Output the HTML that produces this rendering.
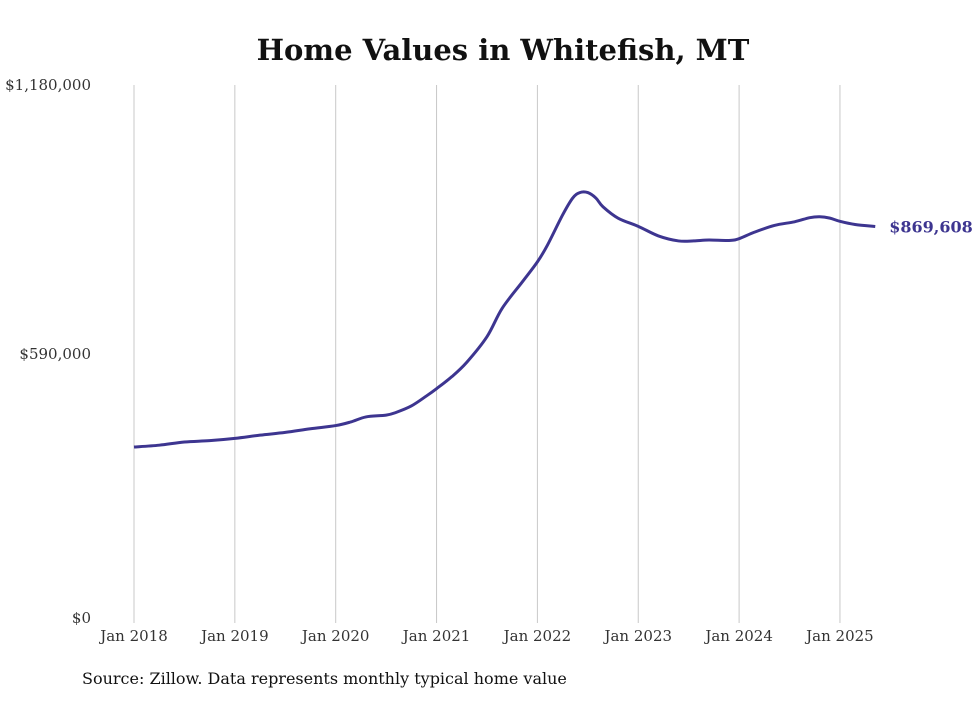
<!DOCTYPE html>
<html><head><meta charset="utf-8"><style>
body{margin:0;background:#fff;width:980px;height:699px;overflow:hidden;font-family:"DejaVu Serif","Liberation Serif",serif}
</style></head><body>
<svg width="980" height="699" id="chart">
<text x="503" y="60" text-anchor="middle" font-size="29" font-weight="bold" fill="#111">Home Values in Whitefish, MT</text>
<text x="82" y="684" font-size="16" fill="#111">Source: Zillow. Data represents monthly typical home value</text>
<g id="grid"></g><g id="yaxis"></g><g id="xaxis"></g><g id="series"></g>
</svg>
<script>
const xTickLabels=["Jan 2018","Jan 2019","Jan 2020","Jan 2021","Jan 2022","Jan 2023","Jan 2024","Jan 2025"];
const xTickYears=[2018,2019,2020,2021,2022,2023,2024,2025];
const yTicks=[0,590000,1180000];
const yTickLabels=["$0","$590,000","$1,180,000"];
const dates=[2018.0,2018.25,2018.5,2018.75,2019.0,2019.25,2019.5,2019.75,2020.0,2020.15,2020.3,2020.5,2020.6,2020.75,2020.9,2021.0,2021.15,2021.3,2021.5,2021.65,2021.85,2022.0,2022.1,2022.25,2022.35,2022.42,2022.5,2022.58,2022.65,2022.8,2023.0,2023.2,2023.4,2023.55,2023.7,2023.9,2024.0,2024.15,2024.35,2024.55,2024.7,2024.8,2024.9,2025.0,2025.15,2025.35];
const values=[386000,390000,397000,400000,405000,412000,418000,426000,433000,441000,452000,456000,462000,476000,498000,514000,540000,572000,628000,690000,748000,792000,829000,895000,932000,944000,944000,932000,913000,888000,870000,849000,838000,838000,840000,839000,843000,857000,872000,880000,889000,891000,888000,881000,874000,869608];
const X0=134,PX=100.85,Y0=623,YH=538,YMAX=1180000;
const xs=d=>X0+(d-2018)*PX, ys=v=>Y0-v/YMAX*YH;
const NS="http://www.w3.org/2000/svg";
function mk(t,a,p){const e=document.createElementNS(NS,t);for(const k in a)e.setAttribute(k,a[k]);p.appendChild(e);return e;}
const grid=document.getElementById('grid'),ya=document.getElementById('yaxis'),xa=document.getElementById('xaxis'),se=document.getElementById('series');
xTickYears.forEach((y,i)=>{
 const l=mk('line',{x1:xs(y),x2:xs(y),y1:85,y2:623,stroke:'#c8c8c8','stroke-width':1},grid);
 
 
 const t=mk('text',{x:xs(y),y:641,'text-anchor':'middle','font-size':15,fill:'#333'},xa);
 t.textContent=xTickLabels[i];
 
 
});
yTicks.forEach((v,i)=>{
 const t=mk('text',{x:91,y:ys(v)+(v===0?0:5),'text-anchor':'end','font-size':15,fill:'#333'},ya);
 t.textContent=yTickLabels[i];
 
 
});
const pts=dates.map((d,i)=>[xs(d),ys(values[i])]);
let dstr='M'+pts[0][0]+','+pts[0][1];
for(let i=0;i<pts.length-1;i++){
 const p0=pts[Math.max(0,i-1)],p1=pts[i],p2=pts[i+1],p3=pts[Math.min(pts.length-1,i+2)];
 const c1=[p1[0]+(p2[0]-p0[0])/6,p1[1]+(p2[1]-p0[1])/6],c2=[p2[0]-(p3[0]-p1[0])/6,p2[1]-(p3[1]-p1[1])/6];
 dstr+=` C${c1[0]},${c1[1]} ${c2[0]},${c2[1]} ${p2[0]},${p2[1]}`;
}
const path=mk('path',{d:dstr,fill:'none',stroke:'#3d3590','stroke-width':3,'stroke-linejoin':'round'},se);


const last=pts[pts.length-1];
const lbl=mk('text',{x:last[0]+14,y:last[1]+6,'font-size':16,'font-weight':'bold',fill:'#3d3590'},se);
lbl.textContent='$'+values[values.length-1].toLocaleString('en-US');


</script>
</body></html>
